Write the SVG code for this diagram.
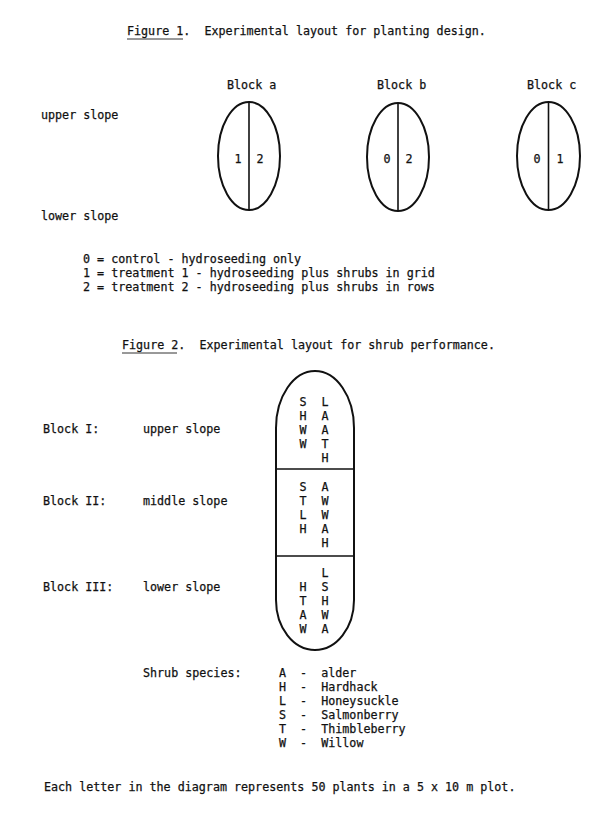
<svg xmlns="http://www.w3.org/2000/svg" width="597" height="816" viewBox="0 0 597 816" xml:space="preserve">
<style>
text{font-family:"DejaVu Sans Mono","Liberation Mono",monospace;font-size:11.7px;fill:#111;white-space:pre;stroke:#111;stroke-width:0.25}
.c{text-anchor:middle}
.sh{fill:none;stroke:#111;stroke-width:2}
.ln{stroke:#111;stroke-width:1.6}
.ul{stroke:#333;stroke-width:1}
</style>
<rect width="597" height="816" fill="#fff"/>
<g id="fig1-title">
<text x="127" y="35">Figure 1.  Experimental layout for planting design.</text>
<line class="ul" x1="127" y1="39" x2="183" y2="39"/>
</g>
<g id="slope-labels-1">
<text x="41" y="119">upper slope</text>
<text x="41" y="220">lower slope</text>
</g>
<g id="block-a">
<text x="227" y="89">Block a</text>
<ellipse class="sh" cx="249" cy="156" rx="31" ry="54"/>
<line class="ln" x1="249" y1="102" x2="249" y2="210"/>
<text class="c" x="238" y="163">1</text>
<text class="c" x="260" y="163">2</text>
</g>
<g id="block-b">
<text x="377" y="89">Block b</text>
<ellipse class="sh" cx="398" cy="157" rx="31" ry="54"/>
<line class="ln" x1="398" y1="103" x2="398" y2="211"/>
<text class="c" x="387" y="163">0</text>
<text class="c" x="409" y="163">2</text>
</g>
<g id="block-c">
<text x="527" y="89">Block c</text>
<ellipse class="sh" cx="548.5" cy="156" rx="31.5" ry="54"/>
<line class="ln" x1="548.5" y1="102" x2="548.5" y2="210"/>
<text class="c" x="537" y="163">0</text>
<text class="c" x="560" y="163">1</text>
</g>
<g id="legend-1">
<text x="83" y="263">0 = control - hydroseeding only</text>
<text x="83" y="277">1 = treatment 1 - hydroseeding plus shrubs in grid</text>
<text x="83" y="291">2 = treatment 2 - hydroseeding plus shrubs in rows</text>
</g>
<g id="fig2-title">
<text x="122" y="349">Figure 2.  Experimental layout for shrub performance.</text>
<line class="ul" x1="122" y1="353" x2="177" y2="353"/>
</g>
<g id="block-labels-2">
<text x="43" y="433">Block I:</text>
<text x="143" y="433">upper slope</text>
<text x="43" y="505">Block II:</text>
<text x="143" y="505">middle slope</text>
<text x="43" y="591">Block III:</text>
<text x="143" y="591">lower slope</text>
</g>
<g id="plot">
<path class="sh" d="M276,428 A39,57 0 0 1 354,428 L354,600 A39,50 0 0 1 276,600 Z"/>
<line class="ln" x1="276" y1="469" x2="354" y2="469"/>
<line class="ln" x1="276" y1="556" x2="354" y2="556"/>
</g>
<g id="block-I">
<text class="c" x="303" y="406">S</text><text class="c" x="325" y="406">L</text>
<text class="c" x="303" y="420">H</text><text class="c" x="325" y="420">A</text>
<text class="c" x="303" y="434">W</text><text class="c" x="325" y="434">A</text>
<text class="c" x="303" y="448">W</text><text class="c" x="325" y="448">T</text>
<text class="c" x="325" y="462">H</text>
</g>
<g id="block-II">
<text class="c" x="303" y="491">S</text><text class="c" x="325" y="491">A</text>
<text class="c" x="303" y="505">T</text><text class="c" x="325" y="505">W</text>
<text class="c" x="303" y="519">L</text><text class="c" x="325" y="519">W</text>
<text class="c" x="303" y="533">H</text><text class="c" x="325" y="533">A</text>
<text class="c" x="325" y="547">H</text>
</g>
<g id="block-III">
<text class="c" x="325" y="577">L</text>
<text class="c" x="303" y="591">H</text><text class="c" x="325" y="591">S</text>
<text class="c" x="303" y="605">T</text><text class="c" x="325" y="605">H</text>
<text class="c" x="303" y="619">A</text><text class="c" x="325" y="619">W</text>
<text class="c" x="303" y="633">W</text><text class="c" x="325" y="633">A</text>
</g>
<g id="species-legend">
<text x="143" y="677">Shrub species:</text>
<text x="279" y="677">A  -  alder</text>
<text x="279" y="691">H  -  Hardhack</text>
<text x="279" y="705">L  -  Honeysuckle</text>
<text x="279" y="719">S  -  Salmonberry</text>
<text x="279" y="733">T  -  Thimbleberry</text>
<text x="279" y="747">W  -  Willow</text>
</g>
<g id="footer">
<text x="44" y="791">Each letter in the diagram represents 50 plants in a 5 x 10 m plot.</text>
</g>
</svg>
